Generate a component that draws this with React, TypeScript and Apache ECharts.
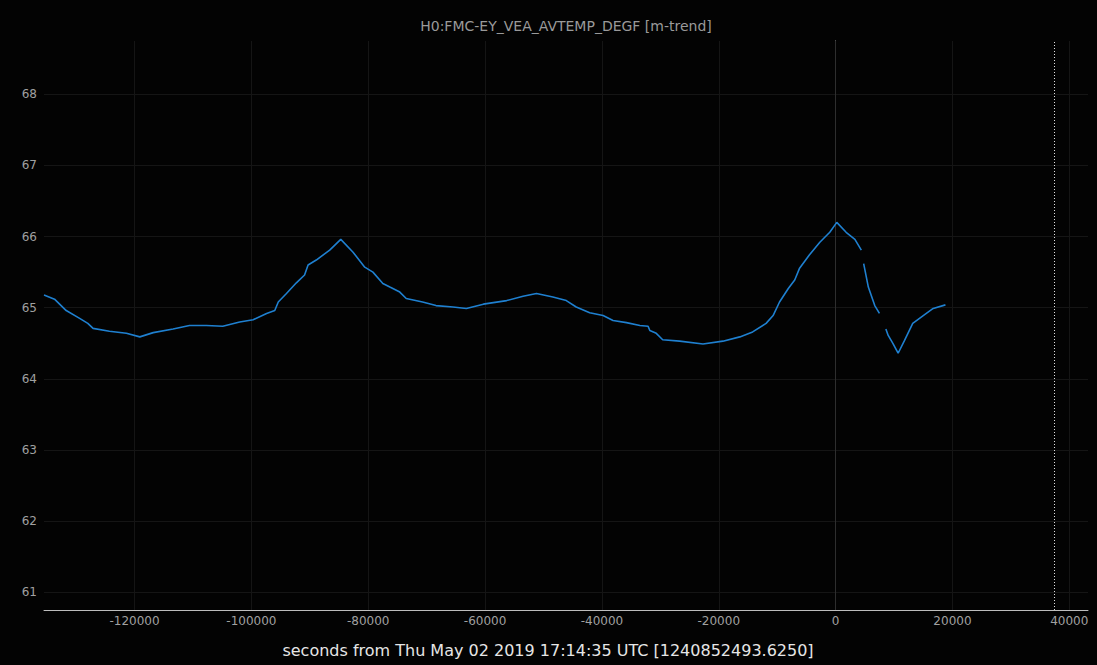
import React, { useEffect, useRef } from "react";
import * as echarts from "echarts";

const TITLE = "H0:FMC-EY_VEA_AVTEMP_DEGF [m-trend]";
const X_NAME = "seconds from Thu May 02 2019 17:14:35 UTC [1240852493.6250]";

const times: number[] = [
  -135500, -133700, -131700, -129400, -128000, -127100, -124300, -121400, -119100, -116800,
  -113400, -110600, -107700, -104900, -102000, -99700, -97400, -96000, -95400, -94000,
  -92300, -90900, -90300, -88900, -86600, -84700, -82600, -80600, -79200, -77500,
  -76300, -74600, -73500, -70700, -68400, -65500, -63200, -60300, -56300, -53500,
  -51200, -48400, -46100, -44400, -42100, -39800, -38100, -35800, -33500, -32100,
  -31800, -30700, -29600, -26700, -22700, -19300, -16400, -14200, -11900, -10700,
  -9600, -8100, -7000, -6200, -4500, -2700, -1000, 200, 1800, 3300,
  4400, 4600, 4800, 5600, 6700, 7500, 7800, 8600, 9000, 9800,
  10700, 11800, 13200, 15000, 16700, 18800,
];

const values: (number | null)[] = [
  65.18, 65.12, 64.96, 64.85, 64.78, 64.71, 64.67, 64.64, 64.59, 64.65,
  64.7, 64.75, 64.75, 64.74, 64.8, 64.83, 64.92, 64.96, 65.08, 65.2,
  65.35, 65.46, 65.6, 65.67, 65.81, 65.96, 65.78, 65.57, 65.5, 65.34,
  65.29, 65.22, 65.13, 65.08, 65.03, 65.01, 64.99, 65.05, 65.1, 65.16,
  65.2, 65.15, 65.1, 65.01, 64.93, 64.89, 64.82, 64.79, 64.75, 64.74,
  64.68, 64.64, 64.55, 64.53, 64.49, 64.53, 64.59, 64.66, 64.78, 64.89,
  65.08, 65.27, 65.39, 65.55, 65.74, 65.92, 66.06, 66.2, 66.06, 65.96,
  65.81, null, 65.62, 65.29, 65.03, 64.92, null, 64.7, 64.61, 64.5,
  64.36, 64.54, 64.78, 64.89, 64.99, 65.04,
];

const xTicks: number[] = [-120000, -100000, -80000, -60000, -40000, -20000, 0, 20000, 40000];
const yTicks: number[] = [61, 62, 63, 64, 65, 66, 67, 68];

const X_MIN = -135500;
const X_MAX = 43200;
const Y_MIN = 60.751;
const Y_MAX = 68.749;
const ZERO_LINE = 0;
const NOW_LINE = 37500;

export default function App() {
  const ref = useRef<HTMLDivElement>(null);

  useEffect(() => {
    document.body.style.margin = "0";
    document.body.style.background = "#030303";
    if (!ref.current) return;
    const chart = echarts.init(ref.current, undefined, { renderer: "svg" });
    const font = "DejaVu Sans";
    chart.setOption({
      animation: false,
      backgroundColor: "#030303",
      textStyle: { fontFamily: font },
      grid: { left: 44, right: 9, top: 41, bottom: 55, containLabel: false },
      xAxis: {
        type: "value",
        min: X_MIN,
        max: X_MAX,
        axisLine: { show: true, onZero: false, lineStyle: { color: "#bdbdbd", width: 1 } },
        axisTick: { show: false, customValues: xTicks },
        axisLabel: {
          customValues: xTicks,
          color: "#a0a0a0",
          fontSize: 12,
          fontFamily: font,
          margin: 5,
          formatter: (v: number) => String(v),
        },
        splitLine: { show: true, lineStyle: { color: "#151515", width: 1 } },
      },
      yAxis: {
        type: "value",
        min: Y_MIN,
        max: Y_MAX,
        axisLine: { show: true, lineStyle: { color: "#bdbdbd", width: 1 } },
        axisTick: { show: false, customValues: yTicks },
        axisLabel: {
          customValues: yTicks,
          color: "#a0a0a0",
          fontSize: 12,
          fontFamily: font,
          margin: 7,
          formatter: (v: number) => String(v),
        },
        splitLine: { show: true, lineStyle: { color: "#151515", width: 1 } },
      },
      series: [
        {
          type: "line",
          data: times.map((t, i) => [t, values[i]]),
          showSymbol: false,
          connectNulls: false,
          lineStyle: { color: "#1f80d0", width: 1.6 },
          itemStyle: { color: "#1f80d0" },
          z: 5,
          markLine: {
            silent: true,
            symbol: "none",
            label: { show: false },
            data: [
              { xAxis: ZERO_LINE, lineStyle: { color: "#2e2e2e", width: 1, type: "solid" } },
              { xAxis: NOW_LINE, lineStyle: { color: "#e0e0e0", width: 1, type: [1, 2] } },
            ],
          },
        },
      ],
      graphic: [
        {
          type: "text",
          x: 566,
          y: 26,
          style: {
            text: TITLE,
            fill: "#9a9a9a",
            fontSize: 14,
            fontFamily: font,
            textAlign: "center",
            textVerticalAlign: "middle",
          },
        },
        {
          type: "text",
          x: 548,
          y: 650,
          style: {
            text: X_NAME,
            fill: "#e6e6e6",
            fontSize: 16,
            fontFamily: font,
            textAlign: "center",
            textVerticalAlign: "middle",
          },
        },
      ],
    });
    return () => chart.dispose();
  }, []);

  return <div ref={ref} style={{ width: 1097, height: 665 }} />;
}
